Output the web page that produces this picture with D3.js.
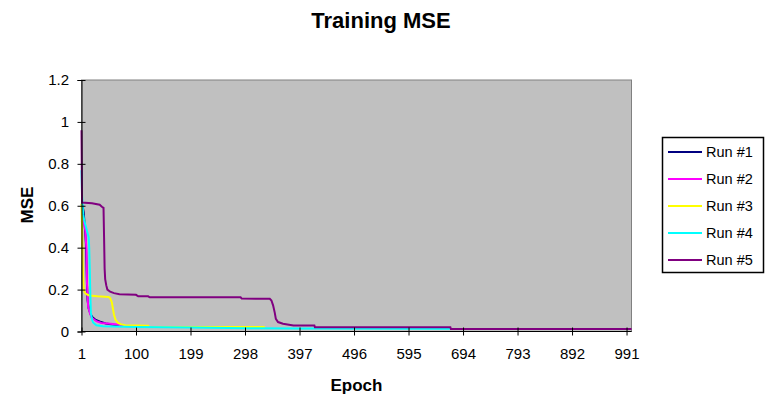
<!DOCTYPE html>
<html><head><meta charset="utf-8">
<script src="https://cdn.jsdelivr.net/npm/d3@7"></script>
<style>
html,body{margin:0;padding:0;background:#fff;}
text{font-family:Arial,"Liberation Sans",sans-serif;}
</style></head>
<body><svg id="c" width="765" height="398"></svg>
<script>
// ---- data (epoch, MSE) ----
const seriesNames = ["Run #1","Run #2","Run #3","Run #4","Run #5"];
const seriesColors = ["#000080","#FF00FF","#FFFF00","#00FFFF","#800080"];
const run1 = [[1,0.61],[3,0.60],[5,0.57],[7,0.50],[9,0.42],[10,0.32],[11,0.22],[12,0.15],[14,0.11],[17,0.085],[21,0.068],[26,0.057],[35,0.047],[45,0.038],[60,0.032],[75,0.028]];
const run2 = [[1,0.52],[4,0.53],[6,0.51],[8,0.48],[10,0.39],[11,0.23],[13,0.12],[16,0.09],[19,0.067],[28,0.049],[37,0.041],[49,0.038],[67,0.033],[79,0.026],[90,0.025]];
const run3 = [[1,0.61],[2,0.50],[3,0.35],[4,0.25],[5,0.20],[7,0.185],[10,0.178],[15,0.172],[30,0.168],[50,0.165],[53,0.16],[56,0.14],[58,0.11],[60,0.08],[63,0.055],[67,0.042],[72,0.035],[80,0.030],[122,0.028],[124,0.021],[334,0.021]];
const run4 = [[1,0.77],[2,0.65],[4,0.56],[6,0.53],[9,0.50],[12,0.47],[14,0.45],[15,0.40],[16,0.30],[17,0.18],[18,0.09],[20,0.058],[22,0.043],[28,0.030],[40,0.025],[100,0.021],[200,0.019],[300,0.016],[400,0.014],[671,0.013]];
const run5 = [[1,0.96],[2,0.615],[20,0.612],[34,0.605],[38,0.595],[41,0.59],[42,0.45],[43,0.30],[44,0.25],[46,0.22],[48,0.20],[53,0.19],[60,0.183],[70,0.178],[100,0.175],[104,0.168],[122,0.168],[125,0.163],[290,0.163],[292,0.157],[343,0.156],[346,0.148],[349,0.125],[352,0.09],[354,0.06],[358,0.045],[367,0.037],[386,0.029],[424,0.029],[425,0.02],[671,0.02],[672,0.012],[1000,0.012]];
const runs = [run1, run2, run3, run4, run5];
const xTicks = [1,100,199,298,397,496,595,694,793,892,991];
const yTicks = [0,0.2,0.4,0.6,0.8,1,1.2];
const titleText = "Training MSE";
const xLabel = "Epoch";
const yLabel = "MSE";

// ---- layout ----
const svg = d3.select("#c");
const L = 81.5, R = 631.5, T = 80, B = 331.5;
const x = d3.scaleLinear().domain([1,1000]).range([L,R]);
const y = d3.scaleLinear().domain([0,1.2]).range([B,T]);

svg.append("rect").attr("x",L).attr("y",T).attr("width",R-L).attr("height",B-T)
  .attr("fill","#C0C0C0").attr("stroke","#808080").attr("stroke-width",1);

// series
const line = d3.line().x(d=>x(d[0])).y(d=>y(d[1]));
runs.forEach((r,i)=>{
  svg.append("path").datum(r).attr("d",line).attr("fill","none")
    .attr("stroke",seriesColors[i]).attr("stroke-width",2).attr("stroke-linejoin","miter");
});

// axes
const ax = svg.append("g").attr("transform",`translate(0,${B})`)
  .call(d3.axisBottom(x).tickValues(xTicks).tickFormat(d3.format("d")).tickSizeOuter(0).tickSize(4));
ax.select(".domain").attr("stroke","#000");
ax.selectAll(".tick line").attr("y1",-4).attr("y2",4).attr("stroke","#000");
ax.selectAll(".tick text").attr("y",17).attr("dy","0.71em").attr("font-size",15).attr("font-family","Arial, 'Liberation Sans', sans-serif").attr("fill","#000");
ax.select(".domain").attr("d",`M${L},0H${R}`);

const ay = svg.append("g").attr("transform",`translate(${L},0)`)
  .call(d3.axisLeft(y).tickValues(yTicks).tickFormat(d=>String(d)).tickSizeOuter(0).tickSize(4));
ay.select(".domain").attr("stroke","#000");
ay.selectAll(".tick line").attr("x1",-4).attr("x2",4).attr("stroke","#000");
ay.selectAll(".tick text").attr("x",-12.5).attr("font-size",15).attr("font-family","Arial, 'Liberation Sans', sans-serif").attr("fill","#000");

// titles
svg.append("text").attr("x",381).attr("y",28).attr("text-anchor","middle")
  .attr("font-size",22).attr("font-weight","bold").text(titleText);
svg.append("text").attr("x",(L+R)/2).attr("y",391).attr("text-anchor","middle")
  .attr("font-size",17).attr("font-weight","bold").text(xLabel);
svg.append("text").attr("transform","translate(33,205) rotate(-90)").attr("text-anchor","middle")
  .attr("font-size",17).attr("font-weight","bold").text(yLabel);

// legend
const lg = svg.append("g");
lg.append("rect").attr("x",662.5).attr("y",137.5).attr("width",101).attr("height",135)
  .attr("fill","#fff").attr("stroke","#000").attr("stroke-width",1.5);
seriesNames.forEach((n,i)=>{
  const yy = 152 + i*27;
  lg.append("line").attr("x1",668).attr("x2",702).attr("y1",yy).attr("y2",yy)
    .attr("stroke",seriesColors[i]).attr("stroke-width",2);
  lg.append("text").attr("x",706).attr("y",yy).attr("dy","0.35em").attr("font-size",14.5).text(n);
});
</script></body></html>
